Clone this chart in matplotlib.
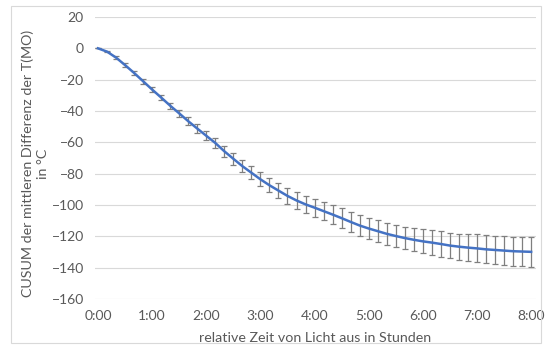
import matplotlib
matplotlib.use("Agg")
import matplotlib.pyplot as plt
from matplotlib.patches import Rectangle

plt.rcParams['font.family'] = ['Lato', 'DejaVu Sans']

# time in minutes after lights off
minutes = [0, 10, 20, 30, 40, 50, 60, 70, 80, 90, 100, 110, 120, 130, 140, 150,
           160, 170, 180, 190, 200, 210, 220, 230, 240, 250, 260, 270, 280, 290,
           300, 310, 320, 330, 340, 350, 360, 370, 380, 390, 400, 410, 420, 430,
           440, 450, 460, 470, 480]
cusum = [0.0, -2.1, -5.9, -10.7, -15.7, -21.0, -26.3, -31.4, -36.6, -41.5,
         -46.5, -51.2, -55.8, -60.4, -65.7, -70.5, -75.2, -79.4, -83.6, -87.4,
         -90.8, -94.2, -97.1, -99.6, -101.7, -103.9, -106.1, -108.4, -110.8,
         -113.1, -115.0, -116.7, -118.4, -119.8, -121.1, -122.2, -123.2, -124.0,
         -124.9, -125.9, -126.6, -127.2, -127.7, -128.3, -128.7, -129.1, -129.5,
         -129.7, -129.9]
err = [0.0, 0.5, 1.0, 1.2, 1.3, 1.5, 1.6, 1.8, 2.0, 2.2, 2.5, 2.7, 2.9, 3.2,
       3.5, 3.8, 4.0, 4.2, 4.4, 4.6, 4.8, 5.0, 5.3, 5.5, 5.7, 5.9, 6.1, 6.3,
       6.5, 6.7, 6.8, 6.9, 7.1, 7.2, 7.3, 7.4, 7.6, 7.8, 8.0, 8.2, 8.4, 8.7,
       8.9, 9.0, 9.1, 9.2, 9.3, 9.4, 9.5]
tick_hours = [0, 1, 2, 3, 4, 5, 6, 7, 8]
tick_labels = ["0:00", "1:00", "2:00", "3:00", "4:00", "5:00", "6:00", "7:00", "8:00"]
y_ticks = [20, 0, -20, -40, -60, -80, -100, -120, -140, -160]

hours = [m / 60 for m in minutes]

fig = plt.figure(figsize=(5.46, 3.51), dpi=100)
fig.patches.append(Rectangle((11 / 546, 8 / 351), 530 / 546, 337 / 351,
                             transform=fig.transFigure, fill=False,
                             edgecolor='#d9d9d9', linewidth=0.8))
ax = fig.add_axes([95 / 546, 1 - 299 / 351, (536 - 95) / 546, (299 - 17) / 351])

ax.errorbar(hours, cusum, yerr=err, fmt='none', ecolor='#7f7f7f',
            elinewidth=0.9, capsize=2.3, capthick=0.9, zorder=3)
ax.plot(hours, cusum, color='#4472C4', linewidth=1.8, zorder=4)

ax.set_xlim(-0.055, 8.09)
ax.set_ylim(-160, 20)
ax.set_yticks(y_ticks)
ax.set_xticks(tick_hours)
ax.set_xticklabels(tick_labels)
ax.yaxis.grid(True, color='#d9d9d9', linewidth=0.8)
ax.set_axisbelow(True)
for s in ax.spines.values():
    s.set_visible(False)
ax.tick_params(axis='both', length=0, labelsize=10, colors='#595959')
ax.tick_params(axis='x', pad=8)
ax.tick_params(axis='y', pad=8)

ax.set_xlabel("relative Zeit von Licht aus in Stunden", fontsize=10.3,
              color='#595959', labelpad=7)
ax.set_ylabel("CUSUM der mittleren Differenz der T(MO)\nin °C", fontsize=10.3,
              color='#595959', linespacing=1.3)
ax.yaxis.set_label_coords(-0.104, 0.48)

fig.savefig("out.png", dpi=100)
